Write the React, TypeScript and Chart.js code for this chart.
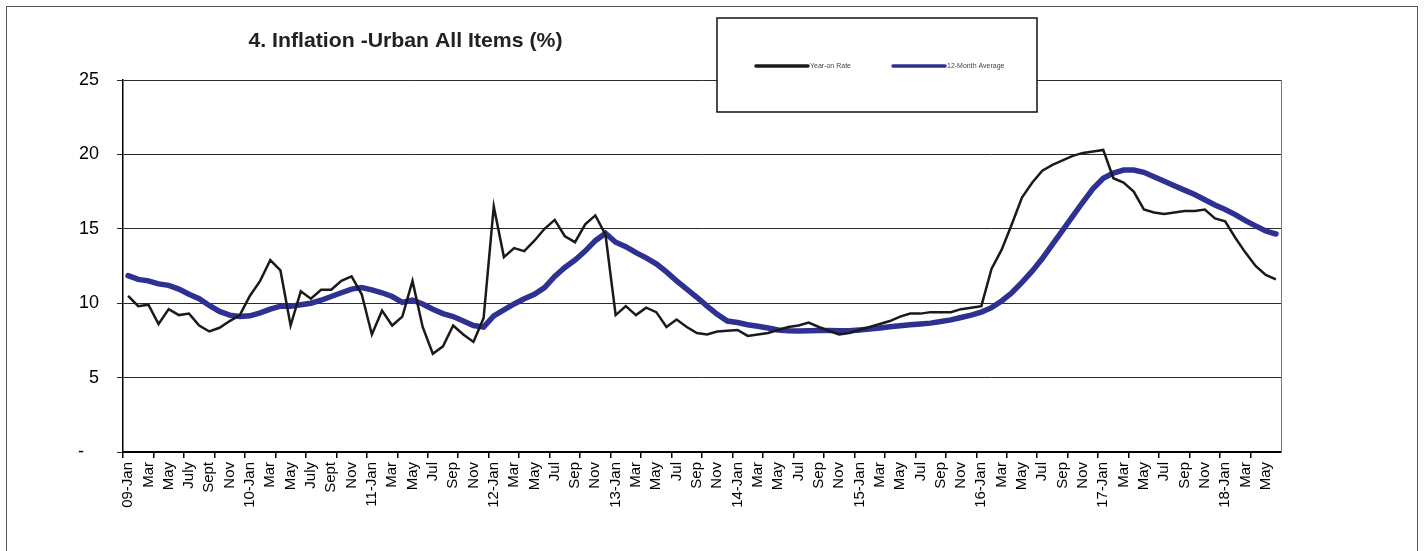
import { useEffect, useRef } from "react";
import { Chart, registerables } from "chart.js";

Chart.register(...registerables);

const monthNames = ["Jan", "Feb", "Mar", "Apr", "May", "Jun", "Jul", "Aug", "Sep", "Oct", "Nov", "Dec"];

// one category per month, 09-Jan .. 18-Jun
const categories: string[] = [];
for (let y = 9; y <= 18; y++) {
  for (let m = 0; m < 12; m++) {
    if (y === 18 && m > 5) break;
    categories.push(`${String(y).padStart(2, "0")}-${monthNames[m]}`);
  }
}

// labels shown on every second month
const tickLabels = [
  "09-Jan", "Mar", "May", "July", "Sept", "Nov",
  "10-Jan", "Mar", "May", "July", "Sept", "Nov",
  "11-Jan", "Mar", "May", "Jul", "Sep", "Nov",
  "12-Jan", "Mar", "May", "Jul", "Sep", "Nov",
  "13-Jan", "Mar", "May", "Jul", "Sep", "Nov",
  "14-Jan", "Mar", "May", "Jul", "Sep", "Nov",
  "15-Jan", "Mar", "May", "Jul", "Sep", "Nov",
  "16-Jan", "Mar", "May", "Jul", "Sep", "Nov",
  "17-Jan", "Mar", "May", "Jul", "Sep", "Nov",
  "18-Jan", "Mar", "May",
];

const yearOnRate = [
  10.5, 9.8, 9.9, 8.6, 9.6, 9.2, 9.3, 8.5, 8.1, 8.35, 8.8, 9.2,
  10.5, 11.5, 12.9, 12.2, 8.5, 10.8, 10.3, 10.9, 10.9, 11.5, 11.8, 10.6,
  7.9, 9.5, 8.5, 9.1, 11.5, 8.4, 6.6, 7.1, 8.5, 7.9, 7.4, 9.0,
  16.5, 13.1, 13.7, 13.5, 14.2, 15.0, 15.6, 14.5, 14.1, 15.3, 15.9, 14.6,
  9.2, 9.8, 9.2, 9.7, 9.4, 8.4, 8.9, 8.4, 8.0, 7.9, 8.1, 8.15,
  8.2, 7.8, 7.9, 8.0, 8.2, 8.4, 8.5, 8.7, 8.4, 8.15, 7.9, 8.0,
  8.2, 8.4, 8.6, 8.8, 9.1, 9.3, 9.3, 9.4, 9.4, 9.4, 9.6, 9.7,
  9.8, 12.3, 13.6, 15.3, 17.1, 18.1, 18.9, 19.3, 19.6, 19.9, 20.1, 20.2,
  20.3, 18.4, 18.1, 17.5, 16.3, 16.1, 16.0, 16.1, 16.2, 16.2, 16.3, 15.7,
  15.5, 14.4, 13.4, 12.5, 11.9, 11.6,
];

const twelveMonthAverage = [
  11.85, 11.6, 11.5, 11.3, 11.2, 10.95, 10.6, 10.3, 9.85, 9.45, 9.2, 9.1,
  9.15, 9.35, 9.6, 9.8, 9.8, 9.9, 10.0, 10.2, 10.45, 10.7, 10.95, 11.05,
  10.9, 10.7, 10.45, 10.05, 10.2, 9.95, 9.6, 9.3, 9.1, 8.8, 8.5, 8.4,
  9.15, 9.55, 9.95, 10.3, 10.6, 11.05, 11.8, 12.4, 12.9, 13.5, 14.2, 14.7,
  14.1, 13.8, 13.4, 13.05, 12.65, 12.1, 11.5, 10.95, 10.4, 9.8, 9.25, 8.8,
  8.7, 8.55, 8.45, 8.33, 8.2, 8.15, 8.13, 8.15, 8.17, 8.17, 8.15, 8.15,
  8.2, 8.26, 8.33, 8.42, 8.48, 8.55, 8.6, 8.66, 8.77, 8.88, 9.04, 9.2,
  9.4, 9.7, 10.15, 10.7, 11.4, 12.15, 13.0, 13.95, 14.9, 15.85, 16.8, 17.7,
  18.4, 18.75, 18.95, 18.95, 18.8, 18.5, 18.2, 17.9, 17.6, 17.3, 16.95, 16.6,
  16.3, 15.95, 15.55, 15.2, 14.85, 14.65,
];

const FONT = "'Liberation Sans', Arial, sans-serif";
const BLUE = "#2e3192";
const BLACK = "#1a1a1a";

// frame, title and boxed legend like the spreadsheet chart
const decorations = {
  id: "decorations",
  beforeDraw(chart: Chart) {
    const { ctx, width, height } = chart;
    ctx.save();
    ctx.fillStyle = "#fff";
    ctx.fillRect(0, 0, width, height);
    ctx.strokeStyle = "#555";
    ctx.lineWidth = 1;
    ctx.strokeRect(6.5, 6.5, 1411, 600);
    ctx.restore();
  },
  afterDraw(chart: Chart) {
    const { ctx, chartArea } = chart;
    ctx.save();

    // right edge of the plot area
    ctx.strokeStyle = "#777";
    ctx.lineWidth = 1;
    ctx.beginPath();
    ctx.moveTo(chartArea.right + 0.5, chartArea.top);
    ctx.lineTo(chartArea.right + 0.5, chartArea.bottom);
    ctx.stroke();

    // title, squeezed a little like the original narrow bold face
    const title = "4. Inflation -Urban All Items (%)";
    ctx.fillStyle = "#222";
    ctx.font = `bold 21px ${FONT}`;
    ctx.textAlign = "center";
    ctx.textBaseline = "middle";
    const w = ctx.measureText(title).width;
    ctx.save();
    ctx.translate(405.5, 41);
    ctx.scale(314 / w, 1);
    ctx.fillText(title, 0, 0);
    ctx.restore();

    // legend box
    ctx.fillStyle = "#fff";
    ctx.fillRect(717, 18, 320, 94);
    ctx.strokeStyle = "#111";
    ctx.lineWidth = 1.5;
    ctx.strokeRect(717, 18, 320, 94);

    ctx.lineCap = "round";
    ctx.lineWidth = 3.5;
    ctx.strokeStyle = BLACK;
    ctx.beginPath();
    ctx.moveTo(756, 66);
    ctx.lineTo(808, 66);
    ctx.stroke();
    ctx.strokeStyle = BLUE;
    ctx.beginPath();
    ctx.moveTo(893, 66);
    ctx.lineTo(945, 66);
    ctx.stroke();

    ctx.fillStyle = "#444";
    ctx.font = `7px ${FONT}`;
    ctx.textAlign = "left";
    ctx.fillText("Year-on Rate", 810, 66);
    ctx.fillText("12-Month Average", 947, 66);

    ctx.restore();
  },
};

function InflationChart() {
  const canvasRef = useRef<HTMLCanvasElement>(null);

  useEffect(() => {
    if (!canvasRef.current) return;

    const chart = new Chart(canvasRef.current, {
      type: "line",
      data: {
        labels: categories,
        datasets: [
          {
            label: "Year-on Rate",
            data: yearOnRate,
            borderColor: BLACK,
            borderWidth: 2.5,
            pointRadius: 0,
            tension: 0,
          },
          {
            label: "12-Month Average",
            data: twelveMonthAverage,
            borderColor: BLUE,
            borderWidth: 5.5,
            pointRadius: 0,
            tension: 0,
            borderCapStyle: "round",
          },
        ],
      },
      options: {
        responsive: false,
        animation: false,
        layout: { padding: { left: 0, top: 80, right: 143, bottom: 0 } },
        plugins: {
          legend: { display: false },
          title: { display: false },
          tooltip: { enabled: false },
        },
        scales: {
          x: {
            offset: true,
            afterFit: (scale) => {
              scale.height = 99;
            },
            grid: {
              offset: true,
              drawOnChartArea: false,
              drawTicks: true,
              tickLength: 6,
              lineWidth: 1.5,
              // tick marks every third month
              color: (ctx) => (ctx.index % 3 === 0 ? "#000" : "rgba(0,0,0,0)"),
            },
            border: { display: true, color: "#000", width: 2 },
            ticks: {
              autoSkip: false,
              maxRotation: 90,
              minRotation: 90,
              padding: 4,
              color: "#000",
              font: { family: FONT, size: 15 },
              callback: (_v, i) => (i % 2 === 0 ? tickLabels[i / 2] : ""),
            },
          },
          y: {
            min: 0,
            max: 25,
            afterFit: (scale) => {
              scale.width = 123;
            },
            grid: {
              color: "#2a2a2a",
              lineWidth: 1,
              tickLength: 6,
            },
            border: { display: true, color: "#000", width: 1.5 },
            ticks: {
              stepSize: 5,
              padding: 18,
              color: "#000",
              font: { family: FONT, size: 18 },
              callback: (v) => (Number(v) === 0 ? "-   " : String(v)),
            },
          },
        },
      },
      plugins: [decorations],
    });

    return () => {
      chart.destroy();
    };
  }, []);

  return (
    <div style={{ position: "absolute", left: 0, top: 0, width: 1424, height: 551 }}>
      <canvas ref={canvasRef} width={1424} height={551}></canvas>
    </div>
  );
}

export default function App() {
  return <InflationChart />;
}
